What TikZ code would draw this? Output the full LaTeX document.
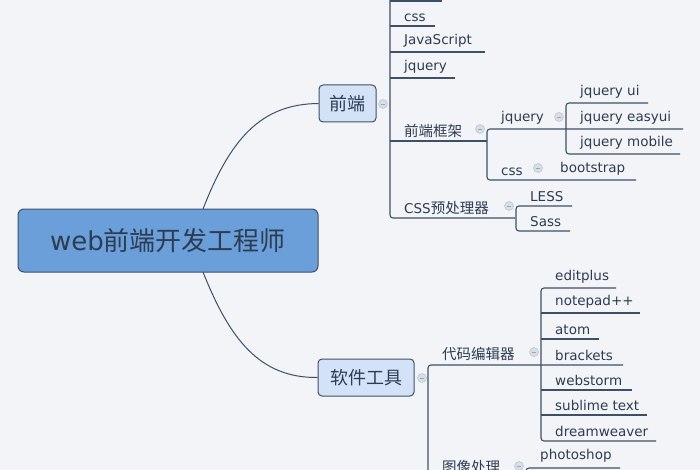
\documentclass[tikz,border=0pt]{standalone}
\usepackage{fontspec}
\setmainfont{DejaVu Sans}
\newfontfamily\cjk{Noto Sans CJK SC}
\definecolor{bg}{HTML}{F2F4F8}
\definecolor{ln}{HTML}{3E5066}
\definecolor{tx}{HTML}{2E3C52}
\definecolor{mainf}{HTML}{6A9FDA}
\definecolor{subf}{HTML}{D3E2F7}
\definecolor{cf}{HTML}{D6DEEA}
\tikzset{
 lbl/.style={anchor=south west,inner sep=0pt,text=tx,font=\fontsize{13.5}{13.5}\selectfont},
 cl/.style={lbl,font=\cjk\fontsize{14.5}{14.5}\selectfont},
 br/.style={draw=ln,line width=1.1pt,rounded corners=3pt},
 col/.style={circle,draw=cf!70!gray,fill=cf,minimum size=9pt,inner sep=0pt,line width=0.5pt,
   path picture={\draw[cf!40!gray,line width=0.6pt] ([xshift=-2pt]path picture bounding box.center) -- ([xshift=2pt]path picture bounding box.center);}},
 sub/.style={draw=ln,fill=subf,rounded corners=4pt,line width=1pt,text=tx,font=\cjk\fontsize{18}{18}\selectfont,inner sep=0pt}
}
\newcommand\leafline[5]{\node[lbl] (#1) at (#2+14,#3-4) {#5};\draw[br] (#2,#3) -- (#4,#3);}
\begin{document}
\begin{tikzpicture}[x=1pt,y=-1pt]
\fill[bg] (0,0) rectangle (700,470);
\useasboundingbox (0,0) rectangle (700,470);
% main
\node[draw=ln,fill=mainf,rounded corners=6pt,line width=1pt,minimum width=300pt,minimum height=63pt,text=tx,font=\fontsize{26}{26}\selectfont] (m) at (168,240.5) {web{\cjk 前端开发工程师}};
\node[sub,minimum width=57pt,minimum height=37pt] (fe) at (347.5,103.5) {前端};
\node[sub,minimum width=96pt,minimum height=37pt] (sw) at (366,377.5) {软件工具};
\draw[ln,line width=1pt] (203,209) .. controls (230,140) and (260,104) .. (fe.west);
\draw[ln,line width=1pt] (203,272) .. controls (230,340) and (260,378) .. (sw.west);
% frontend branch
\node[col] (c1) at (383,104) {};
\draw[br] (390,-5) -- (390,218) -- (515,218);
\draw[br] (390,1) -- (442,1);
\leafline{a1}{390}{26}{435}{css}
\leafline{a2}{390}{52}{485}{JavaScript}
\leafline{a3}{390}{78}{455}{jquery}
\node[cl] (kj) at (404,138) {前端框架};
\node[lbl] (pre) at (404,215) {CSS{\cjk\fontsize{14.5}{14.5}\selectfont 预处理器}};
\draw[br] (390,141) -- (487,141);
\node[col] (c2) at (480,129) {};
\draw[br] (487,141) -- (487,180) -- (636,180);
\draw[br] (487,141) -- (487,129) -- (683,129);
\node[lbl] (jq) at (501,125) {jquery};
\node[col] (c3) at (559,117) {};
\draw[br] (566,129) -- (566,103) -- (648,103);
\draw[br] (566,129) -- (566,154) -- (680,154);
\node[lbl] (u1) at (580,99) {jquery ui};
\node[lbl] (u2) at (580,125) {jquery easyui};
\node[lbl] (u3) at (580,150) {jquery mobile};
\node[lbl] (cs) at (501,176) {css};
\node[col] (c4) at (538,168) {};
\node[lbl] (bs) at (560,176) {bootstrap};
\node[col] (c5) at (509,206) {};
\draw[br] (516,218) -- (516,206) -- (572,206);
\draw[br] (516,218) -- (516,231) -- (570,231);
\node[lbl] (less) at (530,202) {LESS};
\node[lbl] (sass) at (530,227) {Sass};
% software branch
\node[col] (c6) at (422,378) {};
\draw[br] (428,480) -- (428,365) -- (623,365);
\node[cl] (ed) at (442,361) {代码编辑器};
\node[col] (c7) at (534,352) {};
\draw[br] (541,365) -- (541,288) -- (616,288);
\draw[br] (541,365) -- (541,441) -- (656,441);
\leafline{e2}{541}{313}{640}{notepad++}
\leafline{e3}{541}{339}{599}{atom}
\leafline{e5}{541}{390}{632}{webstorm}
\leafline{e6}{541}{415}{647}{sublime text}
\node[lbl] (e1) at (555,284) {editplus};
\node[lbl] (e4) at (555,361) {brackets};
\node[lbl] (e7) at (555,437) {dreamweaver};
\node[cl] (img) at (442,474) {图像处理};
\node[col] (c8) at (519,466) {};
\draw[br] (526,480) -- (526,468) -- (620,468);
\node[lbl] (ps) at (540,463) {photoshop};
\end{tikzpicture}
\end{document}
